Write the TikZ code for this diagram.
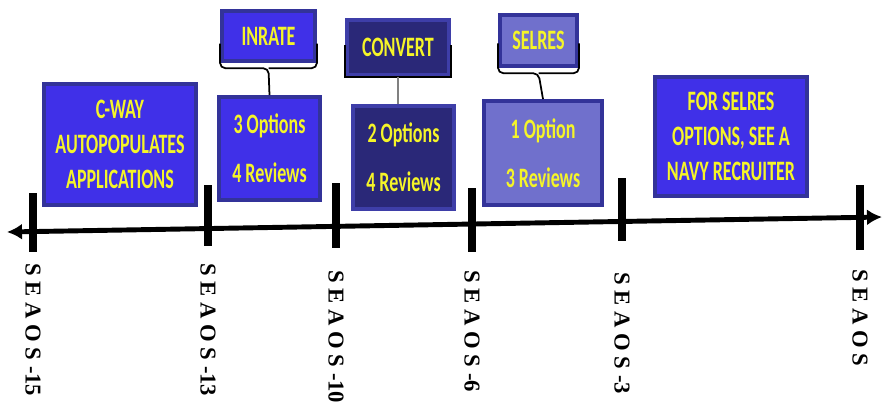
\documentclass[tikz,border=0pt]{standalone}
\usepackage{fontspec}
\usepackage{xcolor}
\usepackage{tikz}
\usetikzlibrary{arrows.meta}
\newfontfamily\boxfont[FakeStretch=0.64]{Carlito}
\newfontfamily\tickfont{Liberation Serif}
\definecolor{boxblue}{RGB}{64,48,232}
\definecolor{boxedge}{RGB}{51,51,153}
\definecolor{boxnavy}{RGB}{42,40,120}
\definecolor{navyedge}{RGB}{62,62,168}
\definecolor{boxlilac}{RGB}{112,112,204}
\definecolor{txtyellow}{RGB}{245,245,40}

\begin{document}
\begin{tikzpicture}[x=0.02cm, y=-0.02cm,
  tbox/.style={draw=boxedge, line width=2.5pt, fill=boxblue, text=txtyellow, align=center, inner sep=0pt, font=\boxfont\bfseries\fontsize{16}{20}\selectfont},
  optbox/.style={tbox, font=\boxfont\bfseries\fontsize{16}{28}\selectfont},
  seaos/.style={rotate=-90, anchor=west, inner sep=0pt, font=\tickfont\bfseries\fontsize{12.9}{14}\selectfont},
  brk/.style={line width=1pt, rounded corners=3pt}]
\useasboundingbox (0,0) rectangle (883,407);
% time line
\coordinate (axl) at (7,232); \coordinate (axr) at (882,217);
\draw[line width=2.8pt, {Latex[length=3mm,width=3.2mm]}-{Latex[length=3mm,width=3.2mm]}] (axl) -- (axr);
\foreach \x/\t/\b/\lab/\ly/\n in {33/193/252/{S E A O S -15}/263/a, 208/185/246/{S E A O S -13}/263/b, 336/183/248/{S E A O S -10}/270/c, 472/188/252/{S E A O S -6}/270/d, 622/178/241/{S E A O S -3}/272/e, 860/185/250/{S E A O S}/269/f}
{ \draw[line width=4pt] (\x,\t) -- (\x,\b); \node[seaos] (s\n) at (\x,\ly) {\lab}; }
% boxes
\node[tbox, minimum width=3.03cm, minimum height=2.41cm] (cway) at (120,144.5) {C-WAY\\AUTOPOPULATES\\APPLICATIONS};
\node[tbox, minimum width=1.85cm, minimum height=0.99cm] (inrate) at (268.5,36) {INRATE};
\node[optbox, minimum width=2.01cm, minimum height=2.05cm] (inopt) at (269.5,148.5) {3 Options\\4 Reviews};
\node[tbox, fill=boxnavy, draw=navyedge, minimum width=2.03cm, minimum height=1.09cm] (convert) at (398,47.5) {CONVERT};
\node[optbox, fill=boxnavy, draw=navyedge, minimum width=2.01cm, minimum height=2.05cm] (convopt) at (403.5,157.5) {2 Options\\4 Reviews};
\node[tbox, fill=boxlilac, minimum width=1.53cm, minimum height=1.01cm] (selres) at (538.5,40.5) {SELRES};
\node[optbox, fill=boxlilac, minimum width=2.35cm, minimum height=2.07cm] (selopt) at (543,153) {1 Option\\3 Reviews};
\node[tbox, minimum width=3.03cm, minimum height=2.37cm] (navy) at (731,136.5) {FOR SELRES\\OPTIONS, SEE A\\NAVY RECRUITER};
% connectors
\draw[brk] ([yshift=11pt]inrate.south west) |- ([yshift=-3pt]inrate.south) -- (inopt.north);
\draw[brk] ([yshift=11pt]inrate.south east) |- ([yshift=-3pt]inrate.south);
\draw[line width=1pt] ([yshift=18pt]convert.south west) -- (convert.south west) -- (convert.south east) -- ([yshift=18pt]convert.south east);
\draw[line width=1.2pt, gray] (convert.south) -- (convert.south |- convopt.north);
\draw[brk] ([yshift=14pt]selres.south west) |- ([yshift=-3pt]selres.south) -- (selopt.north);
\draw[brk] ([yshift=14pt]selres.south east) |- ([yshift=-3pt]selres.south);
\end{tikzpicture}
\end{document}
